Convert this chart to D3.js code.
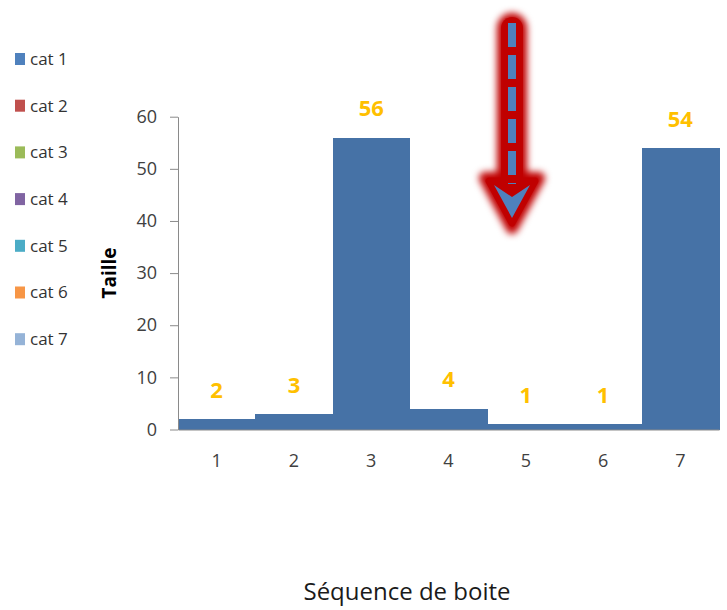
<!DOCTYPE html>
<html>
<head>
<meta charset="utf-8">
<script src="https://cdn.jsdelivr.net/npm/d3@7"></script>
<style>
  html, body { margin: 0; padding: 0; background: #fff; }
  svg { display: block; }
</style>
</head>
<body>
<svg id="chart" width="727" height="610"></svg>
<script>
// Box sizes per position in the sequence
const categories = ["1", "2", "3", "4", "5", "6", "7"];
const values = [2, 3, 56, 4, 1, 1, 54];
const yTicks = [0, 10, 20, 30, 40, 50, 60];
const legendLabels = ["cat 1", "cat 2", "cat 3", "cat 4", "cat 5", "cat 6", "cat 7"];
const legendColors = ["#4F81BD", "#C0504D", "#9BBB59", "#8064A2", "#4BACC6", "#F79646", "#95B3D7"];

const font = "'Open Sans', Lato, sans-serif";
const svg = d3.select("#chart");

const plot = { left: 178, right: 719, top: 116.7, bottom: 429.5 };

const x = d3.scaleBand().domain(categories).range([plot.left, plot.right]).padding(0);
const y = d3.scaleLinear().domain([0, 60]).range([plot.bottom, plot.top]);

// Bars (no gap between them)
svg.append("g").attr("shape-rendering", "crispEdges").selectAll("rect")
  .data(values)
  .join("rect")
  .attr("x", (d, i) => x(categories[i]))
  .attr("width", x.bandwidth() + 0.5)
  .attr("y", d => y(d))
  .attr("height", d => y(0) - y(d))
  .attr("fill", "#4672A6");

// Y axis
const yAxis = svg.append("g")
  .attr("transform", `translate(${plot.left},0)`)
  .call(d3.axisLeft(y).tickValues(yTicks).tickSize(8).tickSizeOuter(0).tickPadding(13));
yAxis.select(".domain").attr("stroke", "#8a8a8a");
yAxis.selectAll(".tick line").attr("stroke", "#8a8a8a");
yAxis.selectAll(".tick text")
  .attr("font-family", font).attr("font-size", 18).attr("fill", "#404040");

// X axis
const xAxis = svg.append("g")
  .attr("transform", `translate(0,${plot.bottom})`)
  .call(d3.axisBottom(x).tickSize(0).tickPadding(25));
xAxis.select(".domain").attr("stroke", "#8a8a8a");
xAxis.selectAll(".tick text")
  .attr("font-family", font).attr("font-size", 18).attr("fill", "#404040");

// Value labels above bars
svg.append("g").selectAll("text")
  .data(values)
  .join("text")
  .attr("x", (d, i) => x(categories[i]) + x.bandwidth() / 2)
  .attr("y", d => y(d) - 29)
  .attr("dy", "0.35em")
  .attr("text-anchor", "middle")
  .attr("font-family", font)
  .attr("font-size", 22)
  .attr("font-weight", "bold")
  .attr("fill", "#FFC000")
  .text(d => d);

// Axis titles
svg.append("text")
  .attr("transform", "translate(109,273) rotate(-90)")
  .attr("text-anchor", "middle")
  .attr("dy", "0.35em")
  .attr("font-family", font)
  .attr("font-size", 19)
  .attr("font-weight", "bold")
  .attr("fill", "#000")
  .text("Taille");

svg.append("text")
  .attr("x", 407)
  .attr("y", 592)
  .attr("dy", "0.35em")
  .attr("text-anchor", "middle")
  .attr("font-family", font)
  .attr("font-size", 24)
  .attr("fill", "#1a1a1a")
  .text("Séquence de boite");

// Legend
const legend = svg.append("g").selectAll("g")
  .data(legendLabels)
  .join("g")
  .attr("transform", (d, i) => `translate(15,${59 + i * 46.7})`);
legend.append("rect")
  .attr("x", 0).attr("y", -6).attr("width", 10).attr("height", 12)
  .attr("fill", (d, i) => legendColors[i]);
legend.append("text")
  .attr("x", 15).attr("dy", "0.35em")
  .attr("font-family", font).attr("font-size", 17).attr("fill", "#333")
  .text(d => d);

// Downward arrow annotation: glowing red body with a dashed blue core
const defs = svg.append("defs");
defs.append("filter").attr("id", "glow")
  .attr("x", "-50%").attr("y", "-20%").attr("width", "200%").attr("height", "140%")
  .append("feGaussianBlur").attr("stdDeviation", 3.5);

const ax = 512;
const arrow = svg.append("g");
arrow.append("g").attr("filter", "url(#glow)").call(g => {
  g.append("line")
    .attr("x1", ax).attr("x2", ax).attr("y1", 28).attr("y2", 185)
    .attr("stroke", "#C00000").attr("stroke-width", 30).attr("stroke-linecap", "round");
  g.append("path")
    .attr("d", `M${ax - 27},${178} L${ax + 27},${178} L${ax},${228} Z`)
    .attr("fill", "#C00000").attr("stroke", "#C00000")
    .attr("stroke-width", 12).attr("stroke-linejoin", "round");
});
arrow.append("g").attr("opacity", 0.9).call(g => {
  g.append("line")
    .attr("x1", ax).attr("x2", ax).attr("y1", 28).attr("y2", 185)
    .attr("stroke", "#C00000").attr("stroke-width", 22).attr("stroke-linecap", "round");
  g.append("path")
    .attr("d", `M${ax - 23},${181} L${ax + 23},${181} L${ax},${223} Z`)
    .attr("fill", "#C00000").attr("stroke", "#C00000")
    .attr("stroke-width", 7).attr("stroke-linejoin", "round");
});
arrow.append("line")
  .attr("x1", ax).attr("x2", ax).attr("y1", 23).attr("y2", 184)
  .attr("stroke", "#4F81BD").attr("stroke-width", 8)
  .attr("stroke-dasharray", "24,8");
arrow.append("path")
  .attr("d", `M${ax - 18},${185} L${ax},${197} L${ax + 18},${185} L${ax},${218} Z`)
  .attr("fill", "#4F81BD");
</script>
</body>
</html>
